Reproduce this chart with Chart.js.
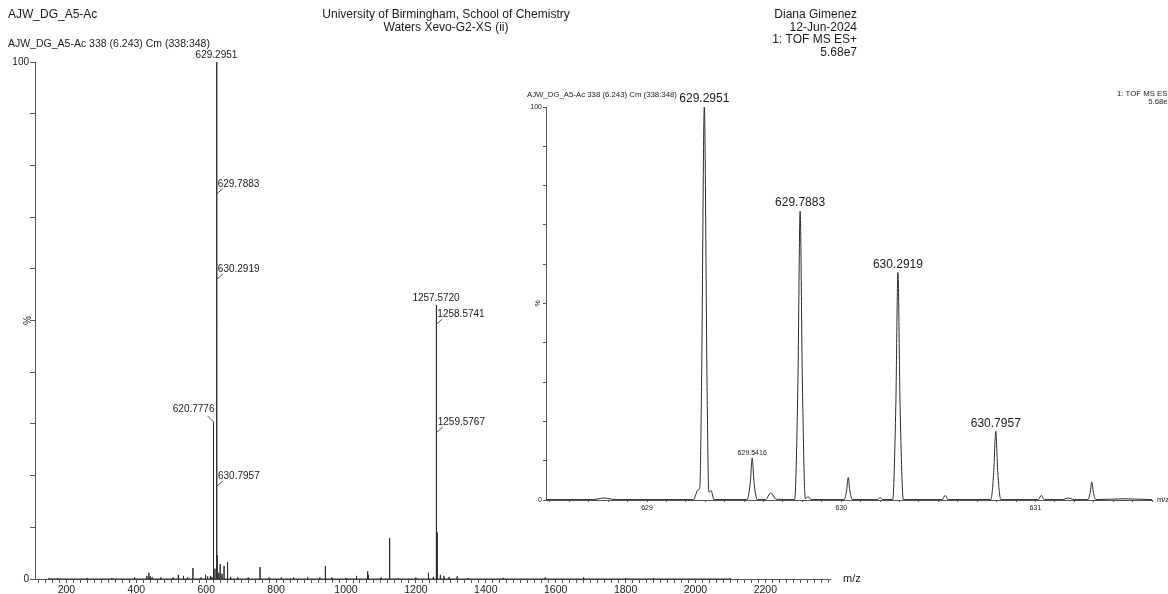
<!DOCTYPE html>
<html><head><meta charset="utf-8">
<script src="https://cdn.jsdelivr.net/npm/chart.js@4.4.1/dist/chart.umd.min.js"></script>
<style>
html,body{margin:0;padding:0;background:#fff;width:1168px;height:594px;overflow:hidden;}
#wrap{position:relative;width:1168px;height:594px;}
canvas{position:absolute;left:0;top:0;}
</style></head><body>
<div id="wrap"><canvas id="main" width="1168" height="594"></canvas><canvas id="inset" width="1168" height="594"></canvas></div>
<script>
// ---------- DATA ----------
const mainMz = [150,175,260,330,395,430,436,440,445,470,505,520,535,547,562,585,598,604,612,616,620.7776,625,629.2951,629.7883,630.2919,630.7957,631.29,636,640,645,651,661,670,690,720,754,780,815,850,890,925,941,960,1000,1030,1062,1064,1100,1124.5,1125.1,1150,1200,1236,1250,1257.5720,1258.5741,1259.5767,1260.58,1261.6,1270,1280,1295,1318,1350,1450,1570,1680,1800,1880,2100];
const mainInt = [0.2,0.2,0.2,0.2,0.3,0.6,1.2,0.5,0.3,0.3,0.3,0.8,0.6,0.3,2.1,0.3,0.8,0.5,0.6,0.4,30.4,2.0,100,74.5,58,18,4.6,1.2,2.9,1.0,2.5,3.3,0.4,0.3,0.3,2.3,0.3,0.3,0.3,0.3,0.3,2.5,0.3,0.2,0.6,1.5,0.8,0.3,7.9,4.4,0.2,0.3,1.2,0.4,53,49.3,28.4,9,2.5,0.8,0.6,0.4,0.5,0.2,0.2,0.3,0.3,0.2,0.2,0.1];
const mainLabelMz = [629.2951,629.7883,630.2919,630.7957,620.7776,1257.5720,1258.5741,1259.5767];
const mainXTickLabels = [200,400,600,800,1000,1200,1400,1600,1800,2000,2200];
const yTickLabels = [0,100];

const insetMz = [628.48,628.72,628.78,628.84,629.24,629.262,629.272,629.281,629.2951,629.309,629.318,629.33,629.345,629.515,629.532,629.5416,629.551,629.568,629.61,629.637,629.665,629.76,629.777,629.7883,629.8,629.815,629.83,629.845,630.015,630.028,630.036,630.044,630.058,630.185,630.2,630.215,630.265,630.281,630.2919,630.303,630.32,630.52,630.535,630.55,630.77,630.785,630.7957,630.806,630.822,631.015,631.03,631.045,631.14,631.17,631.2,631.27,631.282,631.29,631.298,631.312,631.45,631.6];
const insetInt = [0.1,0.1,0.5,0.1,0.1,2.6,3.2,30,100,30,2.0,2.4,0.1,0.1,4.5,10.7,4.5,0.1,0.1,1.8,0.2,0.1,30,73.5,30,0.4,0.8,0.1,0.1,2.5,5.7,2.5,0.1,0.1,0.6,0.1,0.1,24,57.9,24,0.1,0.1,1.2,0.1,0.1,7,17.5,7,0.1,0.1,1.2,0.1,0.1,0.5,0.1,0.1,2,4.6,2,0.1,0.3,0.1];
const insetLabelMz = [629.2951,629.7883,630.2919,630.7957,629.5416];
const insetXTickLabels = [629,630,631];

const headerLeft = 'AJW_DG_A5-Ac';
const headerCenter = ['University of Birmingham, School of Chemistry','Waters Xevo-G2-XS (ii)'];
const headerRight = ['Diana Gimenez','12-Jun-2024','1: TOF MS ES+','5.68e7'];
const subHeader = 'AJW_DG_A5-Ac 338 (6.243) Cm (338:348)';
const insetRight = ['1: TOF MS ES+','5.68e7'];
const xTitle = 'm/z';
const yTitle = '%';

// ---------- STYLE ----------
const FF = '"Liberation Sans", Arial, sans-serif';
const TXT = '#1a1a1a';
const AX = '#555';
const LINE = '#2b2b2b';
const mainLabelPlace = ['top','right','right','right','left','top','right','right'];
const insetLabelSize = [12,12,12,12,7];

function sticks(mz, it){
  const pts=[];
  for(let i=0;i<mz.length;i++){pts.push({x:mz[i],y:0},{x:mz[i],y:it[i]},{x:mz[i],y:0});}
  return pts;
}
function txt(ctx,s,x,y,size,align,base){
  ctx.save();ctx.font=size+'px '+FF;ctx.fillStyle=TXT;ctx.textAlign=align||'left';ctx.textBaseline=base||'middle';ctx.fillText(s,x,y);ctx.restore();
}
function rtxt(ctx,s,x,y,size){
  ctx.save();ctx.translate(x,y);ctx.rotate(-Math.PI/2);ctx.font=size+'px '+FF;ctx.fillStyle=TXT;ctx.textAlign='center';ctx.textBaseline='middle';ctx.fillText(s,0,0);ctx.restore();
}
function seg(ctx,x1,y1,x2,y2){ctx.save();ctx.strokeStyle=LINE;ctx.lineWidth=0.8;ctx.beginPath();ctx.moveTo(x1,y1);ctx.lineTo(x2,y2);ctx.stroke();ctx.restore();}

const mainDeco = {
  id:'mainDeco',
  afterDraw(chart){
    const ctx=chart.ctx, xs=chart.scales.x, ys=chart.scales.y, ca=chart.chartArea;
    txt(ctx,headerLeft,8,15,12);
    txt(ctx,headerCenter[0],446,15,12,'center');
    txt(ctx,headerCenter[1],446,28,12,'center');
    headerRight.forEach((s,i)=>txt(ctx,s,857,15+i*12.5,12,'right'));
    txt(ctx,subHeader,8,44,10.5);
    rtxt(ctx,yTitle,28,(ca.top+ca.bottom)/2,10);
    txt(ctx,xTitle,ca.right+13,ca.bottom,11);
    mainLabelMz.forEach((m,i)=>{
      const idx=mainMz.indexOf(m);
      const px=xs.getPixelForValue(m), py=ys.getPixelForValue(mainInt[idx]);
      const s=m.toFixed(4), pl=mainLabelPlace[i];
      if(pl==='top'){txt(ctx,s,px,py-7,10,'center');}
      else if(pl==='right'){seg(ctx,px,py,px+6,py-5);txt(ctx,s,px+1,py-10,10,'left');}
      else {seg(ctx,px,py,px-6,py-6);txt(ctx,s,px+1,py-13,10,'right');}
    });
  }
};

const insetDeco = {
  id:'insetDeco',
  afterDraw(chart){
    const ctx=chart.ctx, xs=chart.scales.x, ys=chart.scales.y, ca=chart.chartArea;
    txt(ctx,subHeader,527,95,7.8);
    txt(ctx,insetRight[0],1172,94,7.8,'right');
    txt(ctx,insetRight[1],1172,102,7.8,'right');
    rtxt(ctx,yTitle,538,(ca.top+ca.bottom)/2,7);
    txt(ctx,xTitle,ca.right+5,ca.bottom,7.5);
    insetLabelMz.forEach((m,i)=>{
      let best=0;insetMz.forEach((v,j)=>{if(Math.abs(v-m)<Math.abs(insetMz[best]-m))best=j;});
      const px=xs.getPixelForValue(m), py=ys.getPixelForValue(insetInt[best]);
      const sz=insetLabelSize[i];
      txt(ctx,m.toFixed(4),px,py-(sz>8?8:5),sz,'center');
    });
  }
};

const mainChart = new Chart(document.getElementById('main'),{
  type:'line',
  data:{datasets:[{data:sticks(mainMz,mainInt),borderColor:LINE,borderWidth:1,pointRadius:0,tension:0,clip:false}]},
  options:{
    responsive:false,animation:false,devicePixelRatio:1,
    layout:{padding:{left:0,top:62,right:338,bottom:0}},
    plugins:{legend:{display:false},tooltip:{enabled:false}},
    scales:{
      x:{type:'linear',min:110,max:2385,
        afterFit:s=>{s.height=15;},
        grid:{drawOnChartArea:false,tickLength:4,color:AX,tickWidth:1},
        border:{color:AX,width:1},
        ticks:{stepSize:20,autoSkip:false,includeBounds:false,maxRotation:0,padding:1,color:TXT,font:{family:FF,size:10.5},
          callback:v=>mainXTickLabels.includes(Math.round(v))&&Math.abs(v-Math.round(v))<1e-6?String(Math.round(v)):''}},
      y:{type:'linear',min:0,max:100,
        afterFit:s=>{s.width=35;},
        grid:{drawOnChartArea:false,tickLength:5,color:AX},
        border:{color:AX,width:1},
        ticks:{stepSize:10,autoSkip:false,padding:1,color:TXT,font:{family:FF,size:10},
          callback:v=>yTickLabels.includes(v)?String(v):''}}
    }
  },
  plugins:[mainDeco]
});

const insetChart = new Chart(document.getElementById('inset'),{
  type:'line',
  data:{datasets:[{data:insetMz.map((m,i)=>({x:m,y:insetInt[i]})),borderColor:LINE,borderWidth:1,pointRadius:0,cubicInterpolationMode:'monotone',clip:false}]},
  options:{
    responsive:false,animation:false,devicePixelRatio:1,
    layout:{padding:{left:0,top:107,right:16,bottom:0}},
    plugins:{legend:{display:false},tooltip:{enabled:false}},
    scales:{
      x:{type:'linear',min:628.48,max:631.60,
        afterFit:s=>{s.height=94;},
        grid:{drawOnChartArea:false,tickLength:2,color:AX},
        border:{color:AX,width:1},
        ticks:{stepSize:0.1,autoSkip:false,includeBounds:false,maxRotation:0,padding:2,color:TXT,font:{family:FF,size:7},
          callback:v=>{const r=Math.round(v);return (Math.abs(v-r)<1e-6&&insetXTickLabels.includes(r))?String(r):'';}}},
      y:{type:'linear',min:0,max:100,
        afterFit:s=>{s.width=546;},
        grid:{drawOnChartArea:false,tickLength:3,color:AX},
        border:{color:AX,width:1},
        ticks:{stepSize:10,autoSkip:false,padding:1,color:TXT,font:{family:FF,size:7},
          callback:v=>yTickLabels.includes(v)?String(v):''}}
    }
  },
  plugins:[insetDeco]
});
</script>
</body></html>
